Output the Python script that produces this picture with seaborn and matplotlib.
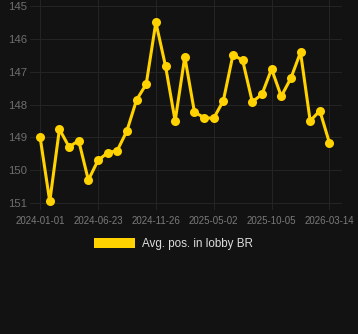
import matplotlib
matplotlib.use("Agg")
import matplotlib.pyplot as plt
import seaborn as sns
import pandas as pd
from matplotlib.patches import Patch

tick_labels = ["2024-01-01", "2024-06-23", "2024-11-26", "2025-05-02", "2025-10-05", "2026-03-14"]
positions = [149.0, 150.95, 148.75, 149.29, 149.1, 150.3, 149.7, 149.47, 149.4, 148.8,
             147.86, 147.38, 145.5, 146.83, 148.5, 146.55, 148.23, 148.4, 148.42, 147.88,
             146.48, 146.66, 147.92, 147.69, 146.92, 147.75, 147.2, 146.41, 148.5, 148.19,
             149.17]
series_name = "Avg. pos. in lobby BR"

df = pd.DataFrame({"idx": range(len(positions)), "pos": positions})

sns.set_theme(style="dark")
plt.rcParams['font.family'] = ['Liberation Sans', 'DejaVu Sans']

bg = "#121212"
gold = "#FFD200"
fig = plt.figure(figsize=(3.58, 3.34), dpi=100, facecolor=bg)
ax = fig.add_axes([30/358, 1 - 210/334, 312/358, 210/334])
ax.set_facecolor(bg)

sns.lineplot(data=df, x="idx", y="pos", ax=ax, color=gold, linewidth=2.2,
             marker="o", markersize=6.5, markeredgewidth=0, legend=False)

ax.set_xlim(-1.05, 31.3)
ax.set_ylim(151.21, 144.82)
ax.set_yticks([145, 146, 147, 148, 149, 150, 151])
ax.set_xticks(list(range(0, len(positions), 6)))
ax.set_xticklabels(tick_labels)
ax.tick_params(axis="x", labelsize=7.0, colors="#7a7a7a", length=0, pad=4)
ax.tick_params(axis="y", labelsize=8.2, colors="#6e6e6e", length=0, pad=2)
ax.grid(True, color="#242424", linewidth=0.8)
ax.set_xlabel("")
ax.set_ylabel("")
for s in ax.spines.values():
    s.set_visible(False)

handle = Patch(facecolor=gold, edgecolor="none", label=series_name)
fig.legend(handles=[handle], loc="center", bbox_to_anchor=(0.485, 1 - 244/334),
           frameon=False, fontsize=8.4, labelcolor="#dddddd",
           handlelength=3.5, handleheight=1.0, handletextpad=0.6)

fig.savefig("out.png", dpi=100, facecolor=bg)
